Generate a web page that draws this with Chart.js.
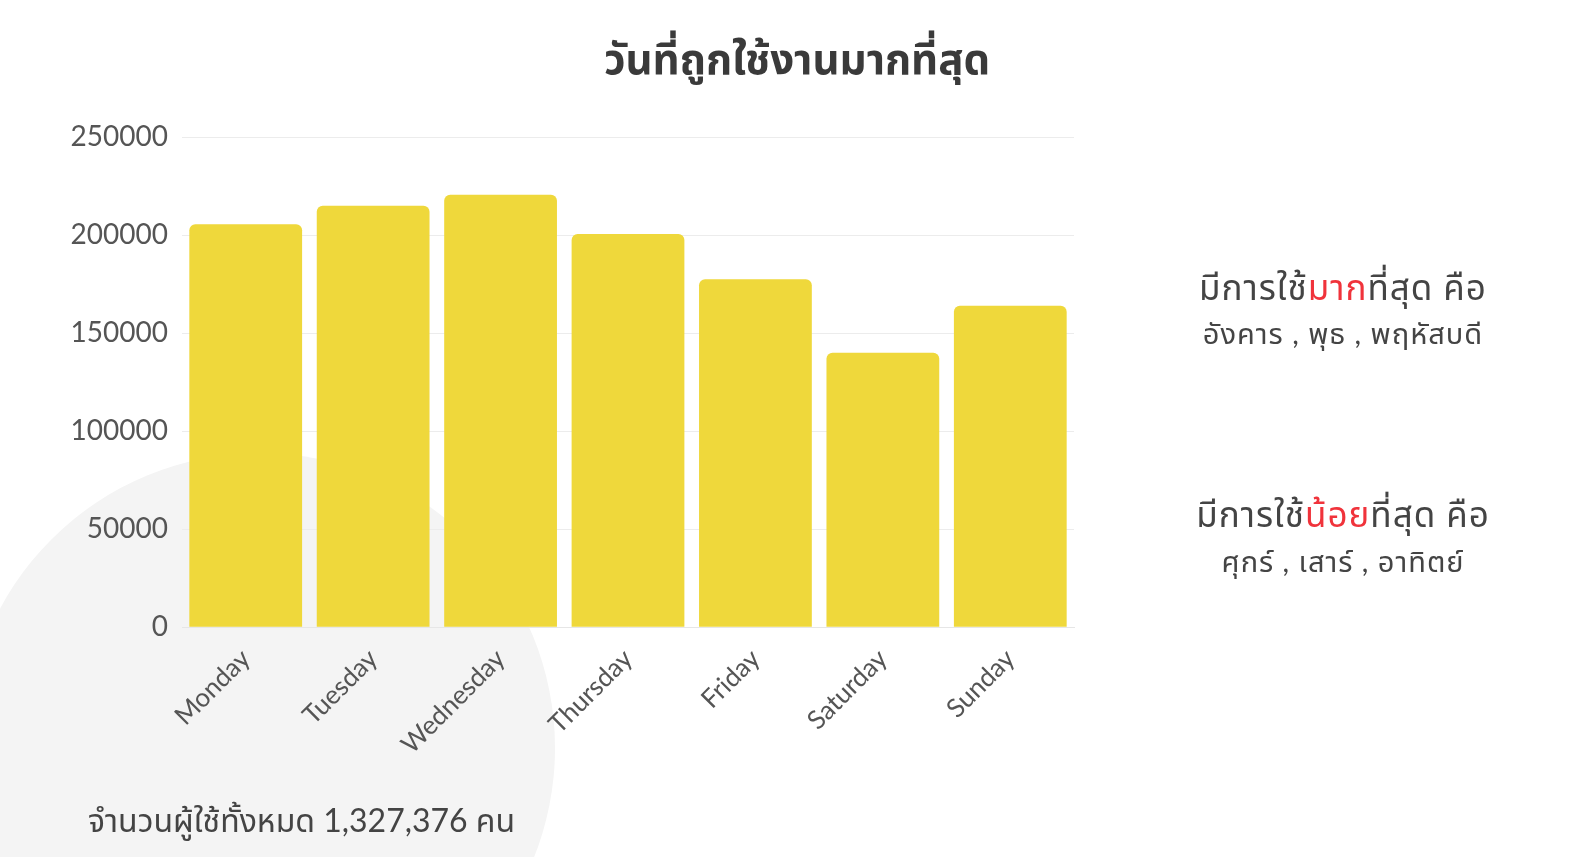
<!DOCTYPE html>
<html>
<head>
<meta charset="utf-8">
<script src="https://cdn.jsdelivr.net/npm/chart.js@4/dist/chart.umd.min.js"></script>
<style>
html, body { margin: 0; padding: 0; background: #fff; overflow: hidden; }
#wrap { position: relative; width: 1587px; height: 857px; font-family: Lato, "Noto Sans", "Noto Sans Thai", sans-serif; }
#circle { position: absolute; left: -35px; top: 453px; width: 590px; height: 590px; border-radius: 50%; background: #f4f4f4; }
#chart { position: absolute; left: 0; top: 0; }
#title { position: absolute; left: 297px; width: 1000px; top: 33px; line-height: 50px; text-align: center; font-size: 42px; font-weight: bold; color: #3a3a3a; white-space: nowrap; }
.side { position: absolute; left: 1143px; width: 400px; text-align: center; color: #444; white-space: nowrap; letter-spacing: 1px; }
.big { font-size: 35px; line-height: 44px; }
.small { font-size: 29px; line-height: 40px; }
.red { color: #f0333b; }
#total { position: absolute; left: 88px; top: 800px; line-height: 40px; font-size: 32px; color: #444; white-space: nowrap; }
</style>
</head>
<body>
<div id="wrap">
    <div id="circle"></div>
    <canvas id="chart" width="1587" height="857"></canvas>
    <div id="title"></div>
    <div class="side big" style="top:264px">มีการใช้<span class="red">มาก</span>ที่สุด คือ</div>
    <div class="side small" style="top:313px">อังคาร , พุธ , พฤหัสบดี</div>
    <div class="side big" style="top:491px">มีการใช้<span class="red">น้อย</span>ที่สุด คือ</div>
    <div class="side small" style="top:541px">ศุกร์ , เสาร์ , อาทิตย์</div>
    <div id="total">จำนวนผู้ใช้ทั้งหมด 1,327,376 คน</div>
</div>
<script>
const days = ['Monday', 'Tuesday', 'Wednesday', 'Thursday', 'Friday', 'Saturday', 'Sunday'];
const users = [205500, 215000, 220500, 200500, 177500, 140000, 164000];
const chartTitle = 'วันที่ถูกใช้งานมากที่สุด';

document.addEventListener('DOMContentLoaded', init);

function init() {
    document.getElementById('title').textContent = chartTitle;

    const ctx = document.getElementById('chart').getContext('2d');
    new Chart(ctx, {
        type: 'bar',
        data: {
            labels: days,
            datasets: [
                {
                    label: 'users',
                    data: users,
                    backgroundColor: '#efd83b',
                    borderRadius: 6,
                    barPercentage: 0.885,
                    categoryPercentage: 1
                }
            ]
        },
        options: {
            responsive: false,
            animation: false,
            layout: {
                padding: { left: 0, right: 513, top: 137, bottom: 89 }
            },
            plugins: {
                legend: { display: false },
                tooltip: { enabled: false }
            },
            scales: {
                x: {
                    grid: { display: false },
                    border: { color: '#e6e6e6' },
                    ticks: {
                        color: '#555',
                        font: { family: 'Lato, "Noto Sans", sans-serif', size: 26 },
                        minRotation: 45,
                        maxRotation: 45,
                        padding: 8
                    }
                },
                y: {
                    min: 0,
                    max: 250000,
                    border: { display: false },
                    grid: { color: '#ececec', drawTicks: false },
                    afterFit: (axis) => { axis.width = 182; },
                    ticks: {
                        stepSize: 50000,
                        color: '#555',
                        padding: 14,
                        font: { family: 'Lato, "Noto Sans", sans-serif', size: 28 },
                        callback: (value) => String(value)
                    }
                }
            }
        }
    });
}
</script>
</body>
</html>
